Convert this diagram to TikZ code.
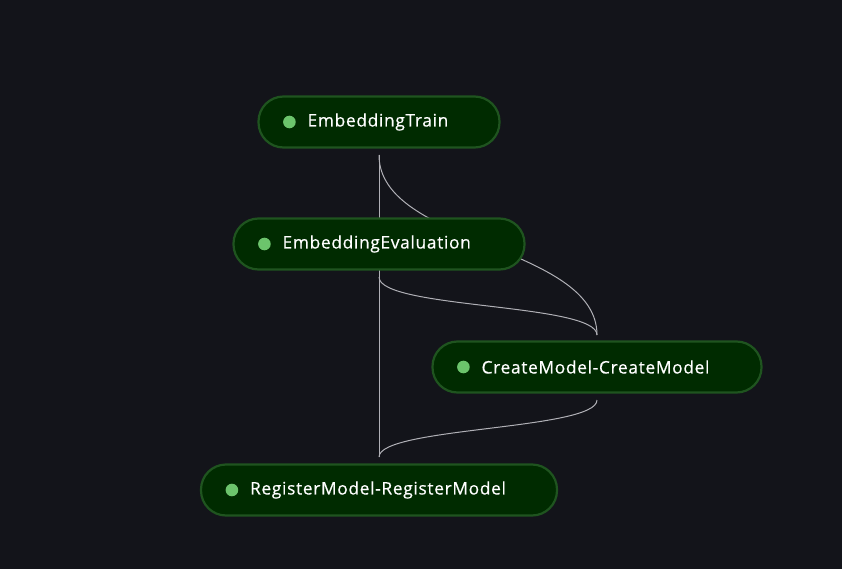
\documentclass[tikz,border=0pt]{standalone}
\usepackage{fontspec}
\setmainfont{Open Sans}[LetterSpace = 4, FakeBold = 0.5]
\definecolor{bgdark}{RGB}{19,20,26}
\definecolor{stepfill}{RGB}{0,43,0}
\definecolor{stepline}{RGB}{31,84,31}
\definecolor{stepdot}{RGB}{108,196,108}
\definecolor{edgegray}{RGB}{176,176,182}
\tikzset{
	stepbox/.style = {draw = stepline, line width = 2.2pt, fill = stepfill,
		rounded corners = 25pt, minimum height = 51pt, inner sep = 0pt},
	steplabel/.style = {anchor = west, text = white, inner sep = 0pt,
		font = \fontsize{17.3}{20}\selectfont},
	edge/.style = {draw = edgegray, line width = 1pt}
}

\begin{document}
\begin{tikzpicture}[x = 1pt, y = -1pt]
		\fill[bgdark] (0, 0) rectangle (842, 569);
		\useasboundingbox (0, 0) rectangle (842, 569);
		%%%%%%%%%%%%%
		\coordinate (trainS) at (379, 155);
		\coordinate (evalS) at (379, 277);
		\coordinate (createN) at (597, 335);
		\coordinate (createS) at (597, 400);
		\coordinate (registerN) at (379, 457);
		%%%%%%%%%%%%%
		\draw[edge] (trainS) to (registerN);
		\draw[edge] (trainS) .. controls +(0, 90) and +(0, -90) .. (createN);
		\draw[edge] (evalS) .. controls +(0, 32) and +(0, -32) .. (createN);
		\draw[edge] (createS) .. controls +(0, 30) and +(0, -30) .. (registerN);
		%%%%%%%%%%%%%
		\node[stepbox, minimum width = 241pt] (train) at (379, 122) {};
		\node[stepbox, minimum width = 291pt] (eval) at (379, 244) {};
		\node[stepbox, minimum width = 329pt] (create) at (597, 367) {};
		\node[stepbox, minimum width = 356pt] (register) at (379, 490) {};
		%%%%%%%%%%%%%
		\foreach \s/\t in {train/EmbeddingTrain, eval/EmbeddingEvaluation,
			create/CreateModel-CreateModel, register/RegisterModel-RegisterModel} {
			\fill[stepdot] ([xshift = 32pt]\s.west) circle (6.3pt);
			\node[steplabel] (\s-text) at ([xshift = 50pt]\s.west) {\t};
		}
\end{tikzpicture}
\end{document}
